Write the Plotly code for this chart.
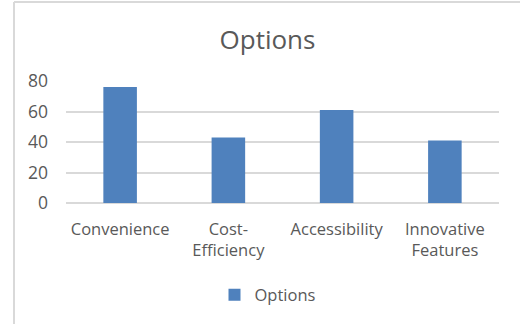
import plotly.graph_objects as go

# Chart data
categories = ["Convenience", "Cost-Efficiency", "Accessibility", "Innovative Features"]
tick_labels = ["Convenience", "Cost-<br>Efficiency", "Accessibility", "Innovative<br>Features"]
values = [76, 43, 61, 41]
series_name = "Options"
y_ticks = [0, 20, 40, 60, 80]

W, H = 520, 324
ML, MR, MT, MB = 66, 21, 81, 121
FONT = "Open Sans, Segoe UI, sans-serif"
TEXT = "#595959"
GRID = "#D9D9D9"
BAR = "#4F81BD"

pw, ph = W - ML - MR, H - MT - MB


def px_x(x):
    return (x - ML) / pw


def px_y(y):
    return (H - MB - y) / ph


fig = go.Figure(
    go.Bar(
        x=categories,
        y=values,
        name=series_name,
        marker=dict(color=BAR, line=dict(width=0)),
        showlegend=True,
    )
)

fig.update_layout(
    width=W,
    height=H,
    margin=dict(l=ML, r=MR, t=MT, b=MB, pad=0),
    paper_bgcolor="white",
    plot_bgcolor="white",
    bargap=0.69,
    font=dict(family=FONT, color=TEXT, size=16),
    title=dict(
        text="Options",
        x=267.5 / W,
        xanchor="center",
        y=1 - 40 / H,
        yanchor="middle",
        yref="container",
        font=dict(family=FONT, size=26, color=TEXT),
    ),
    legend=dict(
        orientation="h",
        x=px_x(268),
        xanchor="center",
        y=px_y(295),
        yanchor="middle",
        font=dict(family=FONT, size=16.5, color=TEXT),
        bgcolor="rgba(0,0,0,0)",
    ),
    xaxis=dict(
        tickmode="array",
        tickvals=categories,
        ticktext=tick_labels,
        showgrid=False,
        showline=False,
        zeroline=False,
        ticks="",
        ticklabelstandoff=14,
        tickfont=dict(family=FONT, size=16.5, color=TEXT),
    ),
    yaxis=dict(
        range=[0, 80],
        tickvals=y_ticks,
        showgrid=True,
        gridcolor=GRID,
        gridwidth=1.5,
        zeroline=True,
        zerolinecolor=GRID,
        zerolinewidth=1.5,
        showline=False,
        ticks="",
        ticklabelstandoff=17,
        tickfont=dict(family=FONT, size=17.5, color=TEXT),
    ),
    shapes=[
        dict(type="line", xref="paper", yref="paper",
             x0=px_x(14), x1=px_x(W + 2), y0=px_y(2), y1=px_y(2),
             line=dict(color=GRID, width=2)),
        dict(type="line", xref="paper", yref="paper",
             x0=px_x(14), x1=px_x(14), y0=px_y(2), y1=px_y(H + 2),
             line=dict(color=GRID, width=2)),
    ],
)

fig.write_html("out.html")
